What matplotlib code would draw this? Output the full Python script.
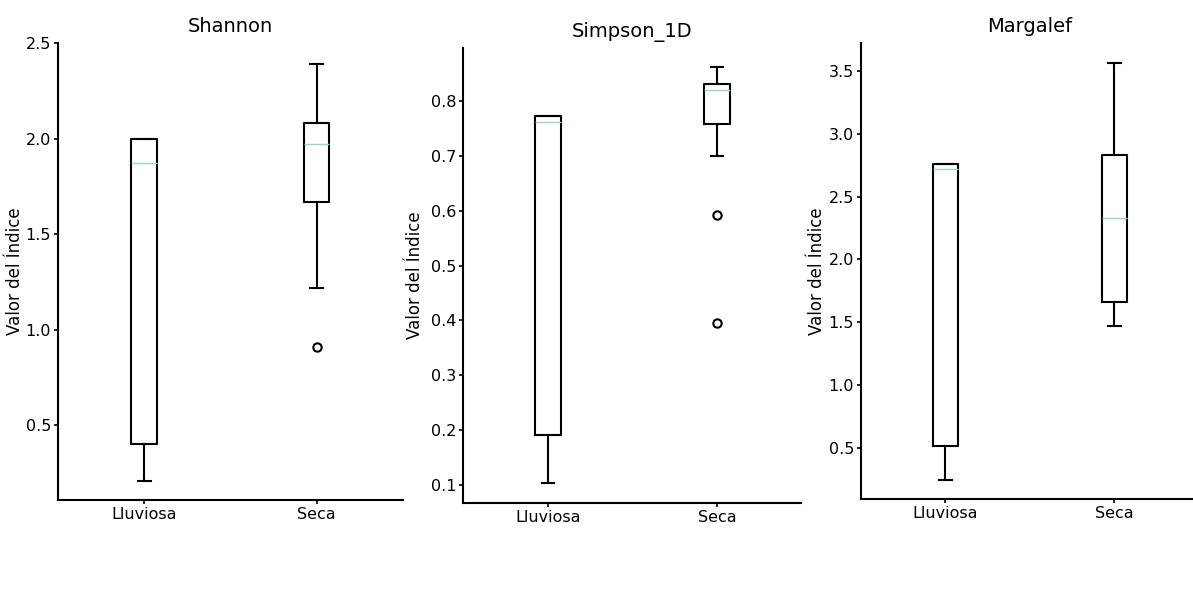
import matplotlib.pyplot as plt

# Estaciones
categorias = ["Lluviosa", "Seca"]
indices = ["Shannon", "Simpson_1D", "Margalef"]

# Estadisticos (por indice: [Lluviosa, Seca])
whislo = {"Shannon": [0.21, 1.22], "Simpson_1D": [0.104, 0.70], "Margalef": [0.25, 1.47]}
q1 = {"Shannon": [0.40, 1.67], "Simpson_1D": [0.19, 0.758], "Margalef": [0.52, 1.66]}
med = {"Shannon": [1.875, 1.97], "Simpson_1D": [0.762, 0.82], "Margalef": [2.72, 2.33]}
q3 = {"Shannon": [2.0, 2.08], "Simpson_1D": [0.773, 0.831], "Margalef": [2.76, 2.83]}
whishi = {"Shannon": [2.0, 2.39], "Simpson_1D": [0.773, 0.862], "Margalef": [2.76, 3.56]}
atipicos = {"Shannon": [[], [0.91]], "Simpson_1D": [[], [0.592, 0.396]], "Margalef": [[], []]}

ylims = {"Shannon": (0.11, 2.5), "Simpson_1D": (0.067, 0.897), "Margalef": (0.094, 3.72)}

# posiciones de los ejes en la figura [left, bottom, width, height]
posiciones = [
    [0.0486, 0.178, 0.289, 0.751],
    [0.3885, 0.173, 0.2832, 0.748],
    [0.7217, 0.179, 0.2833, 0.750],
]
# posicion horizontal de la etiqueta del eje y (coordenadas del eje)
label_x = [-0.10, -0.118, -0.104]

fig = plt.figure(figsize=(11.93, 6.08), dpi=100)

for nombre, pos, lx in zip(indices, posiciones, label_x):
    ax = fig.add_axes(pos)
    stats = []
    for i, cat in enumerate(categorias):
        stats.append({
            "label": cat,
            "whislo": whislo[nombre][i],
            "q1": q1[nombre][i],
            "med": med[nombre][i],
            "q3": q3[nombre][i],
            "whishi": whishi[nombre][i],
            "fliers": atipicos[nombre][i],
        })
    ax.bxp(stats, positions=[1, 2], widths=0.15,
           boxprops=dict(color="black", linewidth=1.5),
           whiskerprops=dict(color="black", linewidth=1.5),
           capprops=dict(color="black", linewidth=1.5),
           medianprops=dict(color="#9fd3c4", linewidth=1.0),
           flierprops=dict(marker="o", markerfacecolor="none",
                           markeredgecolor="black", markersize=6, markeredgewidth=1.5))
    ax.set_xlim(0.5, 2.5)
    ax.set_ylim(*ylims[nombre])
    ax.set_title(nombre, fontsize=14, pad=8)
    ax.set_ylabel("Valor del Índice", fontsize=12)
    ax.yaxis.set_label_coords(lx, 0.5)
    ax.spines["top"].set_visible(False)
    ax.spines["right"].set_visible(False)
    ax.spines["left"].set_linewidth(1.5)
    ax.spines["bottom"].set_linewidth(1.5)
    ax.tick_params(axis="both", labelsize=11.5, length=3, width=1.2, pad=2)

fig.savefig("out.png", dpi=100)
